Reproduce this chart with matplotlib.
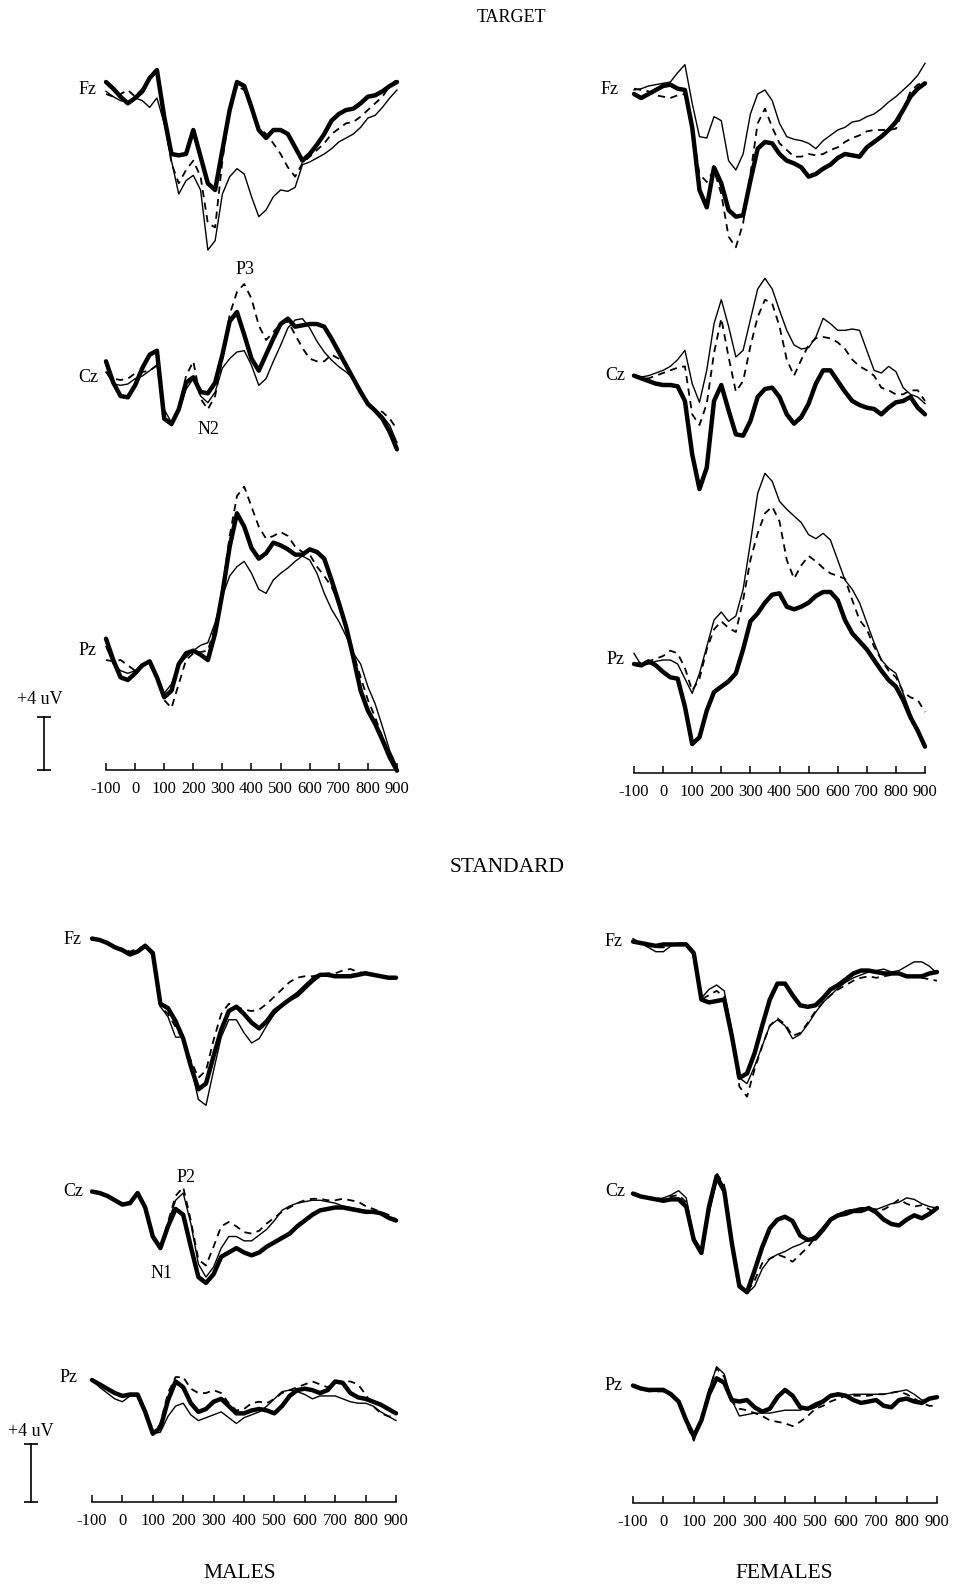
import matplotlib.pyplot as plt
import numpy as np
from matplotlib.transforms import blended_transform_factory

plt.rcParams['font.family'] = ['Liberation Serif', 'DejaVu Serif']

W, H = 954, 1585  # figure size in pixels (dpi 100)

# sample times, ms
times = np.arange(-100, 901, 25)

# ---- TARGET, males (uV) ----
TM_FZ_THICK = [0.6, 0.1, -0.5, -1.0, -0.6, -0.1, 0.9, 1.5, -2.0, -4.8, -4.9, -4.8, -3.0, -5.0, -7.0, -7.5, -4.5, -1.5, 0.6, 0.3, -1.3, -3.0, -3.6, -3.0, -3.0, -3.3, -4.3, -5.3, -4.8, -4.1, -3.3, -2.3, -1.8, -1.5, -1.4, -1.0, -0.5, -0.4, -0.1, 0.3, 0.6]
TM_FZ_THIN = [-0.1, -0.5, -0.8, -0.9, -0.6, -0.8, -1.3, -0.6, -2.5, -5.3, -7.8, -6.8, -6.4, -7.5, -12.0, -11.3, -7.8, -6.5, -5.9, -6.3, -8.0, -9.5, -9.0, -8.0, -7.5, -7.6, -7.3, -5.6, -5.4, -5.1, -4.8, -4.4, -3.9, -3.6, -3.3, -2.8, -2.1, -1.9, -1.3, -0.6, 0.0]
TM_FZ_DASH = [-0.3, -0.5, -0.3, 0.0, -0.5, 0.1, 1.0, 1.4, -2.0, -5.5, -7.0, -6.0, -5.3, -6.5, -10.0, -10.3, -5.3, -1.5, 0.3, 0.0, -1.3, -2.8, -3.3, -4.0, -4.8, -5.8, -6.5, -5.5, -5.0, -4.5, -4.0, -3.3, -2.9, -2.5, -2.4, -2.0, -1.5, -1.0, -0.5, 0.3, 0.8]

TM_CZ_THICK = [0.8, -0.8, -1.8, -1.9, -1.0, 0.3, 1.3, 1.6, -3.5, -3.9, -2.8, -0.8, -0.4, -1.5, -1.6, -0.8, 1.3, 3.8, 4.5, 2.8, 1.0, 0.1, 1.3, 2.5, 3.6, 4.0, 3.4, 3.5, 3.6, 3.6, 3.4, 2.5, 1.5, 0.5, -0.5, -1.5, -2.4, -2.9, -3.5, -4.5, -5.8]
TM_CZ_THIN = [0.0, -0.9, -1.0, -0.9, -0.5, -0.3, 0.1, 0.5, -2.8, -3.8, -3.0, -1.3, -0.5, -1.8, -2.3, -1.5, 0.3, 1.0, 1.5, 1.6, 0.5, -1.0, -0.5, 0.8, 2.0, 3.3, 3.9, 4.0, 3.3, 2.3, 1.5, 0.9, 0.4, 0.0, -0.5, -1.3, -2.3, -2.8, -3.3, -4.0, -5.3]
TM_CZ_DASH = [0.0, -0.5, -0.6, -0.5, -0.1, 0.0, 0.1, 0.5, -3.0, -4.0, -2.8, -0.3, 0.8, -2.0, -2.8, -1.8, 1.0, 4.3, 6.0, 6.6, 5.5, 3.5, 2.4, 3.0, 3.6, 3.8, 2.8, 1.8, 1.0, 0.8, 0.8, 1.3, 1.0, 0.5, -0.5, -1.5, -2.3, -2.8, -3.0, -3.5, -4.3]

TM_PZ_THICK = [0.7, -0.9, -2.2, -2.4, -1.9, -1.3, -1.0, -2.2, -3.7, -3.2, -1.2, -0.4, -0.2, -0.5, -0.9, 1.1, 4.1, 7.6, 10.1, 9.1, 7.5, 6.7, 7.1, 7.9, 7.7, 7.4, 7.0, 7.0, 7.4, 7.2, 6.7, 5.1, 3.4, 1.6, -0.7, -3.2, -4.7, -5.7, -6.9, -8.2, -9.2]
TM_PZ_THIN = [0.1, -1.2, -1.7, -1.9, -1.7, -1.2, -1.0, -2.0, -3.4, -2.7, -1.2, -0.7, -0.2, 0.2, 0.4, 1.9, 3.9, 5.4, 6.1, 6.5, 5.6, 4.4, 4.1, 5.1, 5.6, 6.0, 6.5, 6.9, 6.6, 5.6, 4.1, 2.9, 2.0, 0.9, -0.4, -1.2, -2.9, -4.2, -5.9, -7.7, -8.9]
TM_PZ_DASH = [-0.9, -1.0, -0.9, -1.3, -1.7, -1.3, -1.2, -2.3, -3.9, -4.5, -2.7, -0.9, -0.4, -0.3, -0.2, 1.6, 4.4, 8.4, 11.4, 12.1, 10.6, 9.1, 8.2, 8.4, 8.7, 8.4, 7.6, 7.2, 7.0, 6.1, 5.4, 4.6, 3.4, 1.6, -0.4, -2.2, -3.9, -5.2, -6.7, -7.9, -9.0]

# ---- TARGET, females (uV) ----
TF_FZ_THICK = [-0.3, -0.6, -0.3, 0.0, 0.3, 0.4, 0.1, 0.0, -2.8, -7.5, -8.8, -5.8, -7.0, -9.0, -9.5, -9.4, -6.8, -4.4, -3.9, -4.0, -4.8, -5.3, -5.5, -5.8, -6.5, -6.3, -5.9, -5.6, -5.1, -4.8, -4.9, -5.0, -4.3, -3.9, -3.5, -3.0, -2.4, -1.5, -0.5, 0.1, 0.5]
TF_FZ_THIN = [0.0, 0.1, 0.3, 0.4, 0.5, 0.6, 1.3, 1.9, -1.0, -3.5, -3.6, -2.0, -2.3, -5.3, -6.0, -4.8, -1.8, -0.3, 0.0, -0.8, -2.5, -3.5, -3.7, -3.8, -4.0, -4.4, -3.8, -3.4, -3.0, -2.8, -2.4, -2.3, -2.0, -1.8, -1.4, -0.9, -0.5, 0.0, 0.5, 1.1, 2.0]
TF_FZ_DASH = [0.1, 0.0, -0.1, -0.4, -0.5, -0.6, -0.4, -0.3, -3.0, -6.3, -6.9, -6.0, -7.8, -11.0, -11.8, -10.0, -6.3, -2.5, -1.4, -2.8, -4.0, -4.5, -5.0, -5.0, -4.8, -4.9, -4.8, -4.5, -4.3, -3.9, -3.6, -3.4, -3.1, -3.0, -3.0, -3.0, -2.9, -1.5, -0.1, 0.4, 0.6]

TF_CZ_THICK = [0.1, -0.1, -0.3, -0.5, -0.6, -0.6, -0.7, -1.8, -5.8, -8.4, -6.8, -1.8, -0.6, -2.5, -4.3, -4.4, -3.3, -1.5, -0.9, -0.8, -1.5, -2.8, -3.5, -3.0, -2.0, -0.5, 0.5, 0.5, -0.3, -1.1, -1.8, -2.1, -2.3, -2.4, -2.8, -2.3, -1.9, -1.8, -1.5, -2.3, -2.8]
TF_CZ_THIN = [0.1, 0.0, 0.1, 0.3, 0.5, 0.8, 1.3, 2.0, -0.5, -1.9, 0.5, 4.0, 5.8, 3.8, 1.5, 2.0, 4.3, 6.6, 7.4, 6.6, 5.0, 3.5, 2.4, 2.1, 2.2, 3.0, 4.4, 4.0, 3.5, 3.5, 3.6, 3.5, 2.0, 0.5, 0.3, 0.8, 0.4, -0.8, -1.3, -1.5, -2.0]
TF_CZ_DASH = [0.1, -0.1, -0.1, 0.1, 0.3, 0.5, 0.7, 0.8, -2.8, -3.6, -2.0, 1.8, 4.4, 1.5, -1.1, -0.3, 2.3, 4.5, 5.8, 5.5, 3.8, 1.3, 0.1, 1.3, 2.4, 2.9, 3.0, 2.9, 2.6, 2.1, 1.3, 0.8, 0.5, 0.1, -0.8, -1.0, -1.3, -1.3, -1.0, -1.0, -1.8]

TF_PZ_THICK = [-0.3, -0.4, -0.1, -0.4, -0.9, -1.3, -1.4, -3.5, -6.3, -5.8, -3.8, -2.4, -2.0, -1.6, -1.0, 0.8, 2.9, 3.5, 4.3, 4.9, 5.0, 4.0, 3.8, 4.0, 4.3, 4.8, 5.1, 5.1, 4.5, 3.0, 2.0, 1.4, 0.8, 0.0, -0.8, -1.5, -2.0, -3.0, -4.3, -5.3, -6.5]
TF_PZ_THIN = [0.5, -0.4, -0.3, -0.1, 0.0, 0.0, -0.3, -1.4, -2.5, -1.0, 1.0, 3.0, 3.6, 2.9, 3.3, 5.3, 8.8, 12.5, 14.0, 13.4, 11.9, 11.3, 10.8, 10.3, 9.4, 9.1, 9.5, 9.0, 7.5, 6.0, 5.3, 4.3, 2.8, 1.3, 0.0, -0.6, -1.0, -2.5, -4.0, -5.3, -6.5]
TF_PZ_DASH = [-0.3, -0.2, -0.1, 0.1, 0.3, 0.7, 0.5, -0.6, -2.3, -1.4, 0.8, 2.3, 2.9, 2.4, 2.1, 4.5, 7.5, 9.5, 11.0, 11.5, 10.4, 7.5, 6.1, 7.1, 7.8, 7.4, 6.9, 6.5, 6.3, 6.1, 4.5, 3.0, 2.3, 1.0, 0.0, -0.8, -1.3, -2.4, -2.8, -3.0, -3.9]

# ---- STANDARD, males (uV) ----
SM_FZ_THICK = [0.1, 0.0, -0.2, -0.5, -0.7, -1.0, -0.8, -0.4, -0.9, -4.4, -4.7, -5.6, -6.8, -8.7, -10.3, -9.9, -8.0, -6.2, -4.9, -4.6, -5.1, -5.7, -6.1, -5.6, -4.9, -4.5, -4.1, -3.8, -3.3, -2.8, -2.4, -2.4, -2.5, -2.5, -2.5, -2.4, -2.3, -2.4, -2.5, -2.6, -2.6]
SM_FZ_THIN = [0.0, 0.0, -0.2, -0.5, -0.6, -0.9, -0.7, -0.3, -1.0, -4.6, -5.3, -6.7, -6.7, -8.7, -11.0, -11.4, -9.0, -6.7, -5.5, -5.5, -6.4, -7.1, -6.8, -5.9, -5.1, -4.6, -4.0, -3.6, -3.1, -2.6, -2.4, -2.4, -2.4, -2.4, -2.4, -2.3, -2.2, -2.4, -2.5, -2.6, -2.6]
SM_FZ_DASH = [0.1, 0.0, -0.2, -0.5, -0.6, -0.8, -0.6, -0.4, -1.1, -4.6, -5.1, -6.0, -6.9, -8.3, -9.5, -9.0, -6.9, -5.1, -4.4, -4.6, -4.8, -4.9, -4.8, -4.4, -3.9, -3.4, -2.9, -2.6, -2.5, -2.5, -2.4, -2.3, -2.3, -2.1, -2.0, -2.2, -2.3, -2.4, -2.5, -2.6, -2.7]

SM_CZ_THICK = [0.1, 0.0, -0.2, -0.5, -0.8, -0.7, 0.0, -1.0, -3.0, -3.8, -2.3, -1.1, -1.5, -3.7, -5.8, -6.2, -5.6, -4.4, -4.1, -3.8, -4.1, -4.3, -4.1, -3.7, -3.4, -3.1, -2.8, -2.3, -1.9, -1.5, -1.2, -1.1, -1.0, -1.0, -1.1, -1.2, -1.3, -1.3, -1.4, -1.7, -1.9]
SM_CZ_THIN = [0.1, 0.0, -0.2, -0.5, -0.7, -0.7, 0.0, -0.9, -2.9, -3.7, -2.1, -0.5, 0.0, -2.1, -4.9, -5.8, -5.1, -3.8, -3.0, -3.0, -3.3, -3.3, -2.9, -2.5, -1.9, -1.2, -0.9, -0.7, -0.6, -0.5, -0.5, -0.6, -0.7, -0.9, -1.0, -1.1, -1.2, -1.3, -1.4, -1.7, -1.9]
SM_CZ_DASH = [0.1, 0.0, -0.2, -0.5, -0.7, -0.6, 0.0, -0.9, -2.9, -3.7, -2.0, -0.2, 0.4, -1.9, -4.6, -5.0, -3.7, -2.3, -2.0, -2.3, -2.7, -2.8, -2.6, -2.1, -1.7, -1.3, -1.0, -0.7, -0.5, -0.4, -0.4, -0.5, -0.5, -0.4, -0.5, -0.6, -0.9, -1.1, -1.3, -1.5, -1.8]

SM_PZ_THICK = [0.0, -0.3, -0.6, -0.9, -1.1, -1.0, -1.0, -2.2, -3.7, -3.3, -1.4, -0.1, -0.5, -1.6, -2.2, -2.0, -1.5, -1.3, -1.8, -2.3, -2.3, -2.1, -2.0, -2.1, -2.3, -1.8, -1.1, -0.7, -0.6, -0.7, -0.9, -0.7, -0.1, -0.2, -0.9, -1.2, -1.3, -1.5, -1.7, -2.0, -2.3]
SM_PZ_THIN = [0.0, -0.5, -0.9, -1.3, -1.5, -1.1, -1.1, -2.2, -3.7, -3.6, -2.5, -1.8, -1.6, -2.4, -2.8, -2.6, -2.4, -2.2, -2.6, -3.0, -2.6, -2.4, -2.2, -1.8, -1.3, -0.8, -0.7, -0.8, -1.0, -1.3, -1.1, -1.1, -1.1, -1.3, -1.5, -1.6, -1.6, -1.8, -2.2, -2.5, -2.8]
SM_PZ_DASH = [0.0, -0.3, -0.6, -0.9, -1.1, -1.0, -1.1, -2.3, -3.8, -3.0, -0.9, 0.2, 0.2, -0.6, -0.9, -0.9, -0.7, -0.9, -1.6, -2.1, -2.0, -1.6, -1.5, -1.6, -1.3, -0.9, -0.7, -0.5, -0.3, -0.1, -0.3, -0.5, -0.2, -0.1, -0.1, -0.3, -1.0, -1.8, -2.3, -2.5, -2.6]

# ---- STANDARD, females (uV) ----
SF_FZ_THICK = [0.1, 0.0, -0.1, -0.2, -0.1, -0.1, -0.1, -0.1, -0.7, -3.9, -4.1, -4.0, -3.9, -6.4, -9.3, -9.0, -7.6, -5.7, -3.9, -2.8, -2.8, -3.6, -4.3, -4.4, -4.3, -3.8, -3.2, -2.9, -2.5, -2.1, -1.9, -1.9, -2.0, -2.1, -2.1, -2.1, -2.3, -2.3, -2.3, -2.1, -2.0]
SF_FZ_THIN = [0.3, 0.0, -0.3, -0.6, -0.6, -0.2, 0.0, 0.0, -0.8, -3.8, -3.2, -2.9, -3.3, -6.0, -9.3, -9.7, -8.5, -7.1, -5.7, -5.3, -5.7, -6.6, -6.3, -5.6, -4.8, -4.1, -3.6, -3.1, -2.7, -2.4, -2.2, -2.0, -1.9, -1.8, -2.0, -1.9, -1.6, -1.3, -1.3, -1.6, -2.1]
SF_FZ_DASH = [0.1, 0.0, -0.2, -0.3, -0.3, -0.2, -0.1, -0.1, -0.8, -3.9, -3.6, -3.3, -3.7, -6.4, -9.9, -10.6, -8.7, -7.1, -5.7, -5.2, -5.6, -6.4, -6.2, -5.5, -4.7, -4.1, -3.6, -3.2, -2.9, -2.6, -2.4, -2.3, -2.4, -2.3, -2.2, -2.1, -2.3, -2.3, -2.4, -2.5, -2.6]

SF_CZ_THICK = [0.1, -0.1, -0.2, -0.3, -0.4, -0.3, -0.3, -0.8, -3.1, -4.0, -0.8, 1.3, 0.3, -3.3, -6.3, -6.7, -5.2, -3.6, -2.3, -1.7, -1.5, -1.8, -2.8, -3.1, -3.0, -2.4, -1.7, -1.4, -1.3, -1.1, -1.1, -0.9, -1.2, -1.7, -2.0, -2.1, -1.7, -1.4, -1.6, -1.3, -0.9]
SF_CZ_THIN = [0.0, -0.1, -0.2, -0.3, -0.2, 0.0, 0.3, -0.2, -2.9, -3.8, -1.3, 1.0, 0.1, -3.3, -6.2, -6.8, -6.3, -5.1, -4.4, -4.1, -3.9, -3.6, -3.4, -3.1, -2.8, -2.2, -1.6, -1.3, -1.1, -1.0, -0.9, -0.9, -1.0, -0.8, -0.6, -0.5, -0.2, -0.3, -0.6, -0.8, -0.9]
SF_CZ_DASH = [0.1, -0.1, -0.2, -0.2, -0.3, -0.1, 0.0, -0.5, -3.0, -3.9, -1.0, 1.5, 0.7, -3.1, -6.1, -6.7, -5.9, -4.7, -4.4, -4.1, -4.3, -4.6, -4.1, -3.6, -2.9, -2.2, -1.7, -1.4, -1.1, -1.0, -0.9, -0.9, -1.0, -1.0, -0.7, -0.3, -0.6, -0.8, -0.7, -1.0, -1.4]

SF_PZ_THICK = [0.1, -0.1, -0.2, -0.2, -0.2, -0.5, -1.0, -2.3, -3.4, -2.3, -0.5, 0.6, 0.3, -0.9, -1.0, -0.9, -1.4, -1.7, -1.5, -0.7, -0.2, -0.6, -1.4, -1.5, -1.3, -1.0, -0.6, -0.5, -0.6, -0.9, -1.1, -1.0, -0.9, -1.3, -1.4, -0.9, -0.8, -1.0, -1.1, -0.8, -0.7]
SF_PZ_THIN = [0.1, -0.1, -0.2, -0.3, -0.2, -0.4, -1.0, -2.3, -3.3, -2.2, -0.2, 1.4, 0.9, -0.9, -2.0, -1.9, -1.8, -1.8, -1.8, -1.7, -1.6, -1.6, -1.6, -1.4, -1.1, -0.9, -0.7, -0.6, -0.6, -0.5, -0.5, -0.5, -0.5, -0.5, -0.4, -0.3, -0.2, -0.5, -0.9, -0.9, -0.7]
SF_PZ_DASH = [0.1, -0.1, -0.3, -0.3, -0.3, -0.6, -1.1, -2.5, -3.7, -2.2, -0.2, 1.3, 0.7, -1.0, -1.5, -1.6, -1.8, -2.0, -2.3, -2.4, -2.5, -2.7, -2.4, -2.0, -1.5, -1.3, -1.0, -0.8, -0.6, -0.6, -0.6, -0.6, -0.5, -0.5, -0.4, -0.3, -0.5, -0.8, -1.1, -1.3, -1.3]

electrodes = ['Fz', 'Cz', 'Pz']
tick_times = list(range(-100, 901, 100))

waves = {
    'TM': [(TM_FZ_THICK, TM_FZ_THIN, TM_FZ_DASH), (TM_CZ_THICK, TM_CZ_THIN, TM_CZ_DASH), (TM_PZ_THICK, TM_PZ_THIN, TM_PZ_DASH)],
    'TF': [(TF_FZ_THICK, TF_FZ_THIN, TF_FZ_DASH), (TF_CZ_THICK, TF_CZ_THIN, TF_CZ_DASH), (TF_PZ_THICK, TF_PZ_THIN, TF_PZ_DASH)],
    'SM': [(SM_FZ_THICK, SM_FZ_THIN, SM_FZ_DASH), (SM_CZ_THICK, SM_CZ_THIN, SM_CZ_DASH), (SM_PZ_THICK, SM_PZ_THIN, SM_PZ_DASH)],
    'SF': [(SF_FZ_THICK, SF_FZ_THIN, SF_FZ_DASH), (SF_CZ_THICK, SF_CZ_THIN, SF_CZ_DASH), (SF_PZ_THICK, SF_PZ_THIN, SF_PZ_DASH)],
}

# layout in pixels: x of -100 / 900 ms, y of time axis, px per uV,
# baseline y per electrode, electrode label (right edge, y)
layout = {
    'TM': dict(x=(106, 397), axis=770, ppu=40 / 3, base=(90, 372, 648),
               labels=((97, 90), (98, 377), (97, 651))),
    'TF': dict(x=(634, 925), axis=773, ppu=40 / 3, base=(90, 377, 660),
               labels=((619, 89), (625, 376), (625, 659))),
    'SM': dict(x=(92, 396), axis=1502, ppu=14.5, base=(940, 1193, 1380),
               labels=((82, 940), (83, 1192), (78, 1377))),
    'SF': dict(x=(633, 937), axis=1503, ppu=14.5, base=(943, 1195, 1387),
               labels=((623, 942), (625, 1192), (623, 1386))),
}

line_styles = [
    dict(color='black', lw=3.2, solid_joinstyle='round', solid_capstyle='round'),
    dict(color='black', lw=1.0),
    dict(color='black', lw=1.3, dashes=(4, 3)),
]


def fig_xy(x_px, y_px):
    return x_px / W, 1 - y_px / H


def add_panel(fig, key, top_px):
    cfg = layout[key]
    x0, x1 = cfg['x']
    axis_px, ppu = cfg['axis'], cfg['ppu']
    pad = 4
    ax = fig.add_axes([x0 / W, 1 - (axis_px + pad) / H,
                       (x1 - x0) / W, (axis_px + pad - top_px) / H])
    ax.set_xlim(-100, 900)
    ax.set_ylim(-pad / ppu, (axis_px - top_px) / ppu)
    ax.patch.set_alpha(0)

    for i, trio in enumerate(waves[key]):
        offset = (axis_px - cfg['base'][i]) / ppu
        for vals, style in zip(trio, line_styles):
            ax.plot(times, np.asarray(vals) + offset, clip_on=False, **style)
        lx, ly = cfg['labels'][i]
        fig.text(*fig_xy(lx, ly), electrodes[i], ha='right', va='center', fontsize=13)

    for side in ('top', 'right', 'left'):
        ax.spines[side].set_visible(False)
    ax.spines['bottom'].set_position(('data', 0))
    ax.spines['bottom'].set_bounds(-100, 900)
    ax.spines['bottom'].set_linewidth(1.1)
    ax.set_yticks([])
    ax.set_xticks(tick_times)
    ax.set_xticklabels([str(t) for t in tick_times])
    ax.tick_params(axis='x', direction='in', length=5, width=1.1,
                   pad=8, labelsize=12)
    return ax


def add_scale_bar(fig, ax, x_px, text_xy):
    trans = blended_transform_factory(fig.transFigure, ax.transData)
    xf = x_px / W
    ax.plot([xf, xf], [0, 4], transform=trans, color='black', lw=1.2,
            marker='_', ms=10, mew=1.2, clip_on=False)
    fig.text(*fig_xy(*text_xy), '+4 uV', ha='center', va='center', fontsize=13)


fig = plt.figure(figsize=(W / 100, H / 100), dpi=100)

ax_tm = add_panel(fig, 'TM', 40)
ax_tf = add_panel(fig, 'TF', 40)
ax_sm = add_panel(fig, 'SM', 900)
ax_sf = add_panel(fig, 'SF', 900)

add_scale_bar(fig, ax_tm, 44, (40, 700))
add_scale_bar(fig, ax_sm, 31, (31, 1431))

# section titles
fig.text(*fig_xy(512, 18), 'TARGET', ha='center', va='center', fontsize=13)
fig.text(*fig_xy(507, 867), 'STANDARD', ha='center', va='center', fontsize=15.5)
fig.text(*fig_xy(240, 1573), 'MALES', ha='center', va='center', fontsize=15.5)
fig.text(*fig_xy(784, 1573), 'FEMALES', ha='center', va='center', fontsize=15.5)

# component labels
for name, xy in [('P3', (245, 270)), ('N2', (208, 430)),
                 ('P2', (186, 1177)), ('N1', (162, 1273))]:
    fig.text(*fig_xy(*xy), name, ha='center', va='center', fontsize=13)

fig.savefig('out.png', dpi=100, facecolor='white')
